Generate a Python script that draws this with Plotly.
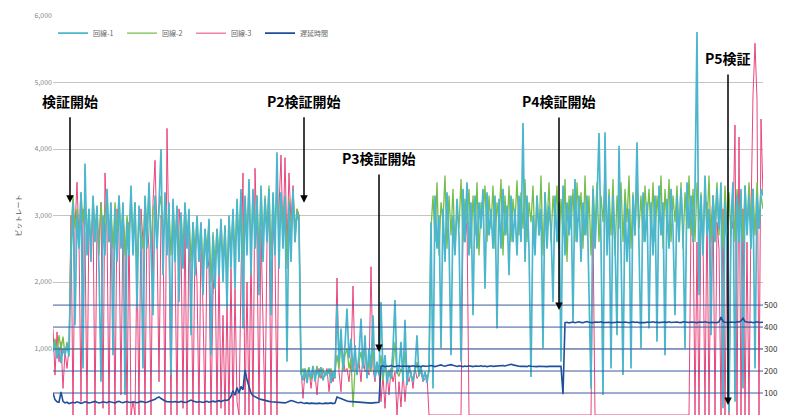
import plotly.graph_objects as go

# ---- data (one sample every ~2 px of the original timeline) ----
line1_a = [950, 1080, 850, 1020, 780, 1000, 900, 1060, 880]
line1_b = [2400, 3200, 1350, 3000, 2500, 3350, 700, 3780, 2400, 3100,
           2300, 3300, 2600, 3150, 2200, 500, 3000, 2400, 3400, 2600,
           3200, 900, 3100, 2300, 3300, 2500, 3200, 300, 2900, 2400,
           3450, 2400, 3200, 1600, 3150, 2600, 700, 3300, 2500, 3500,
           2300, 1500, 3300, 2500, 3150, 4000, 2100, 3350, 2400, 3200,
           600, 3250, 2300, 3150, 1700, 3050, 2200, 3200, 2500, 3100,
           1200, 2900, 2100, 3000, 2300, 2900, 1800, 2800, 2200, 2950,
           900, 2700, 1900, 2800, 2100, 2950, 2000, 2850, 1600, 3000,
           2200, 3100, 1900, 3250, 2300, 3400, 1300, 3300, 2400, 3550,
           2100, 3400, 2500, 3300, 1800, 3450, 2300, 3250, 2600, 3400,
           1500, 3350, 2400, 3950, 2200, 3350, 2500, 3300, 800, 3200,
           2300, 3400, 2600, 3050, 2900]
line1_c = [650, 520, 700, 480, 680, 560, 740, 500, 690, 580,
           720, 520, 640, 600, 700, 480, 660, 550, 1650, 800,
           1300, 700, 1050, 1600, 850, 1150, 650, 1050, 600, 900,
           1450, 700, 1200, 550, 1000, 700, 1500, 550, 800, 600,
           1700, 600, 900, 480, 650, 550, 1000, 1730, 620, 700,
           1100, 500, 1430, 450, 750, 600, 500, 700, 1200, 600,
           720, 520, 650, 480, 700]
line1_d = [2900, 400, 3300, 2500, 3000, 1000, 3100, 2300, 3350, 2600,
           900, 3000, 2400, 3250, 2700, 800, 3400, 2600, 3500, 2400,
           3200, 1500, 3300, 2500, 3200, 2800, 3400, 1900, 3350, 2700,
           3100, 2500, 3300, 1300, 3250, 2500, 3400, 2700, 3150, 2100,
           3300, 2600, 3100, 2400, 3300, 2600, 4390, 2300, 3300, 2500,
           570, 3000, 2400, 3300, 2700, 3100, 1000, 3350, 2500, 3150,
           2800, 1700, 3300, 2600, 3200, 800, 3450, 2400, 3200, 2700,
           3300, 1400, 3550, 2600, 3300, 2300, 3200, 2700, 3300, 2000,
           400, 3400, 2500, 3200, 4240, 2600, 300, 4250, 2400, 3300,
           700, 3300, 2600, 1200, 4050, 2500, 600, 3200, 2300, 3100,
           700, 3300, 2700, 4100, 2500, 1000, 3350, 2600, 3200, 1300,
           3200, 2400, 3300, 1100, 3450, 2700, 3200, 900, 3250, 2500,
           3400, 2800, 1500, 3300, 2600, 3400, 2800, 1000, 3500, 2800,
           3300, 2600, 3400, 5760, 1800, 3300, 2400, 3600, 2700, 3100,
           1200, 3300, 2600, 3400, 2800, 3500, 100, 3200, 2600, 50,
           2900, 3500, 200, 3300, 2600, 3400, 400, 3450, 2700, 3300,
           2500, 3400, 700, 3300, 2800, 3400, 3300]

line2_a = [1000, 1150, 920, 1200, 980, 1180, 900, 1100, 950]
line2_b = [2700, 3300, 2800, 3100, 2600, 3350, 2900, 3200, 2700, 3100,
           2500, 3250, 2800, 3100, 2400, 3200, 2700, 3000, 3350, 2600,
           3100, 2500, 3200, 2700, 3300, 2600, 3150, 2400, 3000, 2700,
           3350, 2600, 3200, 2200, 3100, 2700, 2500, 3250, 2800, 3400,
           2500, 3100, 3200, 2600, 3100, 3300, 2500, 3250, 2700, 3100,
           2400, 3200, 2600, 3100, 2300, 3000, 2500, 3150, 2700, 3000,
           2300, 2900, 2500, 2950, 2400, 2850, 2200, 2800, 2500, 2900,
           2000, 2750, 2300, 2800, 2400, 2900, 2300, 2850, 2100, 2950,
           2500, 3050, 2400, 3200, 2600, 3350, 2300, 3250, 2700, 3450,
           2500, 3350, 2700, 3300, 2400, 3400, 2600, 3300, 2800, 3450,
           2400, 3300, 2700, 3500, 2600, 3350, 2800, 3300, 2200, 3250,
           2600, 3350, 2800, 3100, 3000]
line2_c = [600, 700, 560, 650, 720, 520, 680, 600, 740, 560,
           640, 700, 580, 660, 620, 700, 560, 650, 900, 700,
           1100, 650, 900, 1000, 700, 850, 120, 700, 650, 800,
           950, 700, 1050, 600, 800, 650, 1000, 580, 700, 600,
           900, 520, 760, 600, 680, 540, 720, 1100, 650, 580,
           700, 620, 950, 560, 680, 600, 540, 650, 800, 580,
           680, 560, 620, 540, 650]
line2_d = [2800, 3300, 2600, 3500, 2400, 3200, 2900, 3600, 2500, 3300,
           2700, 3400, 2500, 3100, 2800, 3550, 2600, 3250, 2900, 3400,
           2500, 3300, 2700, 3500, 2400, 3200, 3000, 3450, 2600, 3300,
           2800, 3450, 2500, 3200, 2900, 3550, 2400, 3300, 2700, 3450,
           2600, 3250, 2900, 3530, 2700, 3350, 2800, 3550, 2600, 3200,
           2900, 3450, 2500, 3300, 2700, 3600, 2400, 3350, 2800, 3500,
           2600, 3300, 2900, 3450, 2500, 3250, 2700, 3550, 2300, 3300,
           2800, 3400, 2600, 3500, 2900, 3350, 2500, 3600, 2700, 3300,
           2400, 3450, 2800, 3500, 2600, 3300, 2900, 3650, 2500, 3400,
           2700, 3550, 2400, 3300, 2800, 3500, 2600, 3400, 2900, 3600,
           2500, 3350, 2700, 3500, 2800, 3300, 2600, 3450, 2900, 3400,
           2700, 3500, 2600, 3300, 2900, 3600, 2500, 3400, 2800, 3550,
           2600, 3300, 2900, 3450, 2700, 3500, 2500, 3350, 2800, 3600,
           2700, 3400, 2600, 3500, 2900, 3350, 2500, 3450, 2800, 3600,
           2600, 3300, 2900, 3500, 2700, 3400, 2500, 3450, 2800, 3350,
           2700, 3500, 2600, 3400, 2900, 3300, 2600, 3450, 2800, 3500,
           2900, 3400, 2700, 3500, 2800, 3300, 3100]

line3_a = [1300, 600, 1250, 800, 1100, 400, 950, 700, 1000]
line3_b = [3000, 0, 2800, 3500, 2600, 200, 3100, 2700, 0, 3000,
           2500, 3100, 0, 2900, 2600, 3200, 100, 3640, 2800, 0,
           3000, 2500, 0, 3100, 2700, 300, 3000, 2600, 0, 2900,
           0, 200, 0, 2400, 0, 3100, 2600, 0, 3000, 2500,
           0, 3200, 3830, 2700, 500, 3000, 2800, 0, 4310, 2500,
           0, 3000, 2400, 0, 3100, 2700, 100, 3000, 0, 2800,
           2300, 0, 2600, 2000, 0, 2700, 1600, 0, 2500, 2200,
           0, 1800, 2400, 0, 2300, 100, 1500, 0, 1700, 0,
           2200, 0, 1900, 200, 0, 2100, 3640, 0, 2000, 0,
           2500, 0, 3710, 2600, 0, 2800, 1500, 0, 2600, 3100,
           0, 2900, 2400, 0, 3100, 3910, 2600, 3870, 2500, 3640,
           2900, 3450, 2600, 3100, 3000]
line3_c = [700, 250, 650, 550, 700, 400, 650, 600, 300, 700,
           550, 650, 600, 700, 350, 650, 500, 700, 2060, 650,
           350, 900, 650, 700, 500, 800, 1940, 700, 650, 800,
           500, 900, 650, 700, 600, 2230, 700, 500, 800, 650,
           200, 600, 100, 650, 300, 700, 500, 650, 0, 500,
           120, 650, 200, 600, 500, 650, 400, 700, 550, 600,
           650, 500, 550, 600, 0]
line3_d = ([0] * 16 + [2800, 2600, 2900] + [0] * 62 + [2800] + [0] * 47 +
           [0, 2900, 3100, 0, 2600, 0, 3000, 2700, 0, 3200,
            0, 2800, 3300, 0, 2900, 2500, 0, 3100, 0, 2700,
            0, 3000, 2800, 4360, 0, 4180, 0, 3100, 0, 2600,
            0, 3000, 4810, 5590, 4740, 0, 4450, 3300])

delay_a = [100, 70, 60, 58, 105, 62, 55, 58, 52, 56,
           58, 55, 60, 57, 53, 56, 60, 58, 55, 57,
           60, 62, 58, 55, 57, 60, 58, 56, 61, 59,
           57, 55, 60, 62, 58, 56, 59, 61, 58, 57,
           60, 58, 56, 59, 62, 60, 57, 58, 61, 63,
           66, 72, 78, 82, 75, 68, 64, 61, 60, 58,
           59, 61, 60, 58, 62, 60, 57, 59, 63, 68,
           64, 60, 58, 61, 59, 57, 60, 62, 58, 61,
           63, 60, 62, 65, 61, 64, 68, 66, 72, 85,
           110, 90, 125, 100, 130, 115, 205, 160, 125, 100,
           88, 82, 78, 74, 71, 68, 66, 64, 62, 60,
           59, 58, 57, 56, 55, 57, 55, 58, 62, 66,
           64, 60, 57, 56, 58, 55, 53, 55, 52, 54,
           53, 55, 52, 54, 53, 51, 54, 52, 53, 55,
           52, 54, 82, 78, 74, 70, 67, 64, 62, 61,
           60, 59, 58, 57, 56, 56, 55, 56, 55, 54,
           55, 56, 57, 58]
delay_b = [222, 224, 220, 223, 221, 225, 222, 220, 223, 224,
           221, 222, 225, 223, 220, 222, 224, 221, 223, 222,
           220, 224, 222, 221, 223, 225, 222, 220, 223, 226,
           228, 224, 222, 225, 227, 229, 226, 223, 221, 224,
           222, 220, 223, 221, 224, 222, 220, 223, 221, 222,
           224, 221, 223, 220, 222, 224, 221, 222, 223, 221,
           222, 225, 223, 226, 229, 231, 228, 225, 224, 222,
           221, 223, 222, 220, 224, 222, 221, 223, 220, 222,
           221, 223, 222, 220, 221, 223, 222, 221, 220, 222, 221]
delay_step = [95]
delay_c = [420, 422, 419, 421, 423, 420, 422, 424, 421, 420,
           423, 425, 422, 421, 420, 423, 421, 422, 424, 420,
           421, 423, 422, 420, 419, 421, 423, 422, 420, 421,
           423, 421, 420, 422, 424, 421, 423, 420, 422, 421,
           420, 423, 421, 422, 424, 421, 423, 420, 422, 421,
           423, 421, 424, 421, 422, 420, 423, 421, 420, 424,
           422, 420, 421, 423, 422, 421, 420, 423, 421, 422,
           424, 421, 420, 422, 423, 421, 420, 424, 445, 426,
           422, 420, 421, 423, 422, 421, 424, 423, 428, 440,
           425, 422, 421, 423, 420, 422, 424, 421, 423, 422]

line1 = line1_a + line1_b + line1_c + line1_d
line2 = line2_a + line2_b + line2_c + line2_d
line3 = line3_a + line3_b + line3_c + line3_d
delay = delay_a + delay_b + delay_step + delay_c
N = len(line1)
t = list(range(N))

names = ["回線-1", "回線-2", "回線-3", "遅延時間"]
colors = ["#4bb6cc", "#76bd4c", "#e8467c", "#1f4e9a"]

fig = go.Figure()
fig.add_trace(go.Scatter(x=t[:len(line3)], y=line3, name=names[2], mode="lines",
                         line=dict(color=colors[2], width=1), legendrank=3))
fig.add_trace(go.Scatter(x=t[:len(line2)], y=line2, name=names[1], mode="lines",
                         line=dict(color=colors[1], width=1.3), legendrank=2))
fig.add_trace(go.Scatter(x=t, y=line1, name=names[0], mode="lines",
                         line=dict(color=colors[0], width=1.7), legendrank=1))
fig.add_trace(go.Scatter(x=t[:len(delay)], y=delay, name=names[3], mode="lines",
                         line=dict(color=colors[3], width=1.6), yaxis="y2", legendrank=4))

right_ticks = [100, 200, 300, 400, 500]
for v in right_ticks:
    fig.add_shape(type="line", xref="paper", x0=0, x1=1, yref="y2", y0=v, y1=v,
                  line=dict(color="#3a5c9e", width=1), layer="above")

notes = [
    ("検証開始", 8.5, 3190, -102),
    ("P2検証開始", 125.5, 3190, -102),
    ("P3検証開始", 163.0, 947, -194),
    ("P4検証開始", 253.0, 1579, -209),
    ("P5検証", 337.5, 150, -347),
]
for txt, xv, yv, ay in notes:
    fig.add_annotation(x=xv, y=yv, xref="x", yref="y", text=txt, showarrow=True,
                       ax=0, ay=ay, arrowhead=2, arrowsize=1, arrowwidth=1.5,
                       arrowcolor="black", borderpad=6,
                       font=dict(family="Noto Sans CJK JP", size=14, color="black", weight="bold"))

fig.update_layout(
    width=787, height=417,
    margin=dict(l=53, r=24, t=16, b=2),
    paper_bgcolor="white", plot_bgcolor="white",
    font=dict(family="Noto Sans CJK JP", size=7, color="#777"),
    showlegend=True,
    legend=dict(orientation="h", x=0.0, y=0.957, xanchor="left", yanchor="middle",
                font=dict(size=7, color="#666"), itemwidth=30, entrywidth=24,
                bgcolor="rgba(0,0,0,0)"),
    xaxis=dict(range=[0, N - 1], showgrid=False, zeroline=False, showticklabels=False,
               showline=False, ticks=""),
    yaxis=dict(range=[0, 6000], tickvals=[1000, 2000, 3000, 4000, 5000, 6000],
               tickformat=",", gridcolor="#c4c4c4", gridwidth=1, zeroline=False,
               tickfont=dict(size=7, color="#888"), automargin=False,
               title=dict(text="ビットレート", font=dict(size=7, color="#555"), standoff=12)),
    yaxis2=dict(range=[0, 1815], overlaying="y", side="right", tickvals=right_ticks,
                showgrid=False, zeroline=False, automargin=False,
                tickfont=dict(size=8, color="#333")),
)

fig.write_html("out.html", config={"displayModeBar": False},
               post_script="document.body.style.margin='0';")
